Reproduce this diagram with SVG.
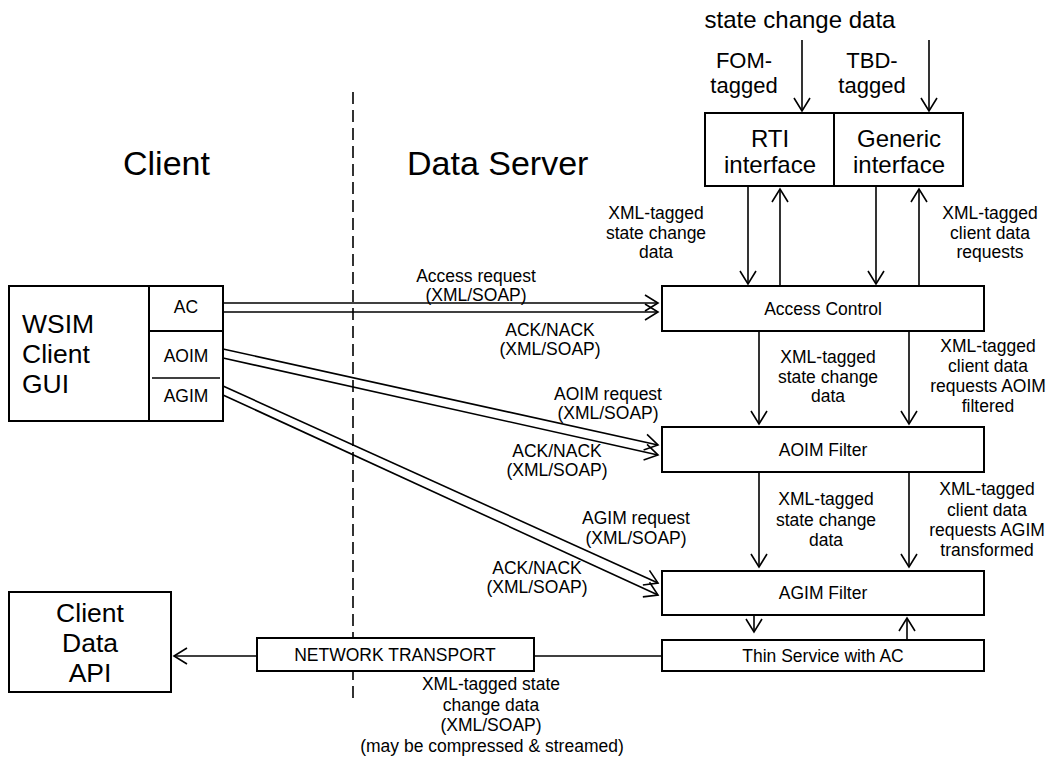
<svg xmlns="http://www.w3.org/2000/svg" width="1052" height="758" viewBox="0 0 1052 758">
<style>
text{font-family:"Liberation Sans",Arial,sans-serif;fill:#000}
.s{font-size:17.5px}
.m{font-size:22px}
.l{font-size:24px}
.xl{font-size:26.5px}
.h{font-size:34px}
.c{text-anchor:middle}
.box{fill:#fff;stroke:#000;stroke-width:2}
.ln{fill:none;stroke:#000;stroke-width:1.6}
.ar{fill:none;stroke:#000;stroke-width:1.6;marker-end:url(#a)}
</style>
<defs>
<marker id="a" markerUnits="userSpaceOnUse" markerWidth="20" markerHeight="20" viewBox="-15 -10 17 20" refX="0" refY="0" orient="auto">
<path d="M-13,-8 L0,0 L-13,8" fill="none" stroke="#000" stroke-width="1.6"/>
</marker>
</defs>
<rect width="1052" height="758" fill="#fff"/>
<g id="headings">
<text class="h" x="123" y="175">Client</text>
<text class="h" x="407" y="175">Data Server</text>
<line x1="353" y1="92" x2="353" y2="698" stroke="#000" stroke-width="1.6" stroke-dasharray="12,6"/>
</g>
<g id="wsim">
<rect class="box" x="9" y="286" width="214" height="135"/>
<line x1="149" y1="286" x2="149" y2="421" stroke="#000" stroke-width="2"/>
<line x1="149" y1="331" x2="223" y2="331" stroke="#000" stroke-width="2"/>
<line x1="152" y1="378" x2="220" y2="378" stroke="#000" stroke-width="1.5"/>
<text class="xl" x="22" y="333">WSIM</text>
<text class="xl" x="22" y="363">Client</text>
<text class="xl" x="22" y="393">GUI</text>
<text class="s c" x="186" y="313">AC</text>
<text class="s c" x="186" y="362">AOIM</text>
<text class="s c" x="186" y="402">AGIM</text>
</g>
<g id="client-data-api">
<rect class="box" x="9" y="592" width="162" height="100"/>
<text class="xl c" x="90" y="622">Client</text>
<text class="xl c" x="90" y="652">Data</text>
<text class="xl c" x="90" y="682">API</text>
</g>
<g id="interfaces">
<rect class="box" x="705" y="113" width="258" height="73"/>
<line x1="834" y1="113" x2="834" y2="186" stroke="#000" stroke-width="2"/>
<text class="l c" x="770" y="147">RTI</text>
<text class="l c" x="770" y="173">interface</text>
<text class="l c" x="899" y="147">Generic</text>
<text class="l c" x="899" y="173">interface</text>
</g>
<g id="access-control">
<rect class="box" x="662" y="286" width="322" height="45"/>
<text class="s c" x="823" y="314.5">Access Control</text>
</g>
<g id="aoim-filter">
<rect class="box" x="662" y="427" width="322" height="45"/>
<text class="s c" x="823" y="456">AOIM Filter</text>
</g>
<g id="agim-filter">
<rect class="box" x="662" y="571" width="322" height="44"/>
<text class="s c" x="823" y="599">AGIM Filter</text>
</g>
<g id="thin-service">
<rect class="box" x="662" y="640" width="322" height="31"/>
<text class="s c" x="823" y="661.5">Thin Service with AC</text>
</g>
<g id="network-transport">
<rect class="box" x="257" y="638" width="277" height="33"/>
<text class="s c" x="395" y="661">NETWORK TRANSPORT</text>
</g>
<g id="connectors">
<line class="ar" x1="802" y1="40" x2="802" y2="111"/>
<line class="ar" x1="929" y1="40" x2="929" y2="111"/>
<line class="ar" x1="748" y1="186" x2="748" y2="284"/>
<line class="ar" x1="780" y1="286" x2="780" y2="189"/>
<line class="ar" x1="876" y1="186" x2="876" y2="284"/>
<line class="ar" x1="919" y1="286" x2="919" y2="189"/>
<line class="ar" x1="759" y1="331" x2="759" y2="424"/>
<line class="ar" x1="909" y1="331" x2="909" y2="424"/>
<line class="ar" x1="759" y1="472" x2="759" y2="567"/>
<line class="ar" x1="909" y1="472" x2="909" y2="567"/>
<line class="ar" x1="754" y1="615" x2="754" y2="632"/>
<line class="ar" x1="907" y1="640" x2="907" y2="618"/>
<line class="ar" x1="223" y1="303" x2="658" y2="303"/>
<line class="ar" x1="223" y1="312" x2="658" y2="312"/>
<line class="ar" x1="223" y1="349" x2="658" y2="445"/>
<line class="ar" x1="223" y1="358" x2="658" y2="455"/>
<line class="ar" x1="223" y1="386" x2="658" y2="583"/>
<line class="ar" x1="223" y1="395" x2="658" y2="595"/>
<line class="ln" x1="534" y1="656" x2="662" y2="656"/>
<line class="ar" x1="257" y1="656" x2="174" y2="656"/>
</g>
<g id="labels">
<text class="l c" x="800" y="28">state change data</text>
<text class="m c" x="744" y="68">FOM-</text>
<text class="m c" x="744" y="93">tagged</text>
<text class="m c" x="872" y="68">TBD-</text>
<text class="m c" x="872" y="93">tagged</text>
<text class="s c" x="656" y="219">XML-tagged</text>
<text class="s c" x="656" y="238.5">state change</text>
<text class="s c" x="656" y="258">data</text>
<text class="s c" x="990" y="219">XML-tagged</text>
<text class="s c" x="990" y="238.5">client data</text>
<text class="s c" x="990" y="258">requests</text>
<text class="s c" x="828" y="363">XML-tagged</text>
<text class="s c" x="828" y="383">state change</text>
<text class="s c" x="828" y="402">data</text>
<text class="s c" x="988" y="352">XML-tagged</text>
<text class="s c" x="988" y="372">client data</text>
<text class="s c" x="988" y="392">requests AOIM</text>
<text class="s c" x="988" y="412">filtered</text>
<text class="s c" x="826" y="505">XML-tagged</text>
<text class="s c" x="826" y="525.5">state change</text>
<text class="s c" x="826" y="546">data</text>
<text class="s c" x="987" y="495">XML-tagged</text>
<text class="s c" x="987" y="515.5">client data</text>
<text class="s c" x="987" y="536">requests AGIM</text>
<text class="s c" x="987" y="556">transformed</text>
<text class="s c" x="476" y="282">Access request</text>
<text class="s c" x="476" y="301">(XML/SOAP)</text>
<text class="s c" x="550" y="336">ACK/NACK</text>
<text class="s c" x="550" y="355">(XML/SOAP)</text>
<text class="s c" x="608" y="400">AOIM request</text>
<text class="s c" x="608" y="419">(XML/SOAP)</text>
<text class="s c" x="557" y="457">ACK/NACK</text>
<text class="s c" x="557" y="476">(XML/SOAP)</text>
<text class="s c" x="636" y="524">AGIM request</text>
<text class="s c" x="636" y="544">(XML/SOAP)</text>
<text class="s c" x="537" y="574">ACK/NACK</text>
<text class="s c" x="537" y="593">(XML/SOAP)</text>
<text class="s c" x="491" y="690">XML-tagged state</text>
<text class="s c" x="491" y="710.5">change data</text>
<text class="s c" x="491" y="731">(XML/SOAP)</text>
<text class="s c" x="492" y="751.5">(may be compressed &amp; streamed)</text>
</g>
</svg>
